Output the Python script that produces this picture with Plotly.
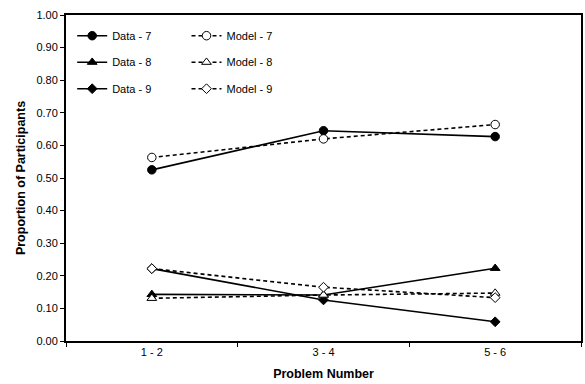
import plotly.graph_objects as go

categories = ["1 - 2", "3 - 4", "5 - 6"]
data7 = [0.525, 0.645, 0.627]
model7 = [0.563, 0.620, 0.664]
data8 = [0.143, 0.141, 0.223]
model8 = [0.131, 0.141, 0.147]
data9 = [0.222, 0.126, 0.059]
model9 = [0.222, 0.165, 0.133]
yticks = [0, 0.1, 0.2, 0.3, 0.4, 0.5, 0.6, 0.7, 0.8, 0.9, 1.0]

fig = go.Figure()

series = [
    ("Data - 7", data7, "circle", True, "legend"),
    ("Data - 8", data8, "triangle-up", True, "legend"),
    ("Data - 9", data9, "diamond", True, "legend"),
    ("Model - 7", model7, "circle", False, "legend2"),
    ("Model - 8", model8, "triangle-up", False, "legend2"),
    ("Model - 9", model9, "diamond", False, "legend2"),
]
for name, vals, sym, filled, lg in series:
    size = 8.5 if sym != "diamond" else 7.5
    fig.add_trace(go.Scatter(
        x=categories, y=vals, name=name, mode="lines+markers",
        legendgroup=name,
        line=dict(color="black", width=1.6, dash="solid" if filled else "4px,3px"),
        marker=dict(symbol=sym, size=size, color="black" if filled else "white",
                    line=dict(color="black", width=1)),
        legend=lg,
    ))

font = "Liberation Sans, Arial, sans-serif"
fig.update_layout(
    width=585, height=384,
    margin=dict(l=66, r=2, t=15, b=43),
    paper_bgcolor="white", plot_bgcolor="white",
    font=dict(family=font, size=11, color="black"),
    legend=dict(x=0.012, y=0.981, xanchor="left", yanchor="top",
                bgcolor="rgba(0,0,0,0)", font=dict(size=11), tracegroupgap=7.5,
                itemwidth=30, traceorder="grouped"),
    legend2=dict(x=0.234, y=0.981, xanchor="left", yanchor="top",
                 bgcolor="rgba(0,0,0,0)", font=dict(size=11), tracegroupgap=7.5,
                 itemwidth=30, traceorder="grouped"),
    xaxis=dict(
        type="category", categoryorder="array", categoryarray=categories,
        range=[-0.5, 2.5], tickson="boundaries", ticks="outside", ticklen=4,
        tickcolor="black", showline=True, linecolor="black", linewidth=2,
        mirror=True, showgrid=False, zeroline=False,
        title=dict(text="<b>Problem Number</b>", font=dict(size=12.5), standoff=12),
        tickfont=dict(size=11),
    ),
    yaxis=dict(
        range=[0, 1.0], tickvals=yticks, tickformat=".2f", ticks="outside",
        ticklen=4, tickcolor="black", showline=True, linecolor="black",
        linewidth=2, mirror=True, showgrid=False, zeroline=False,
        title=dict(text="<b>Proportion of Participants</b>", font=dict(size=12.5), standoff=8),
        tickfont=dict(size=11),
    ),
)

fig.write_html("out.html")
